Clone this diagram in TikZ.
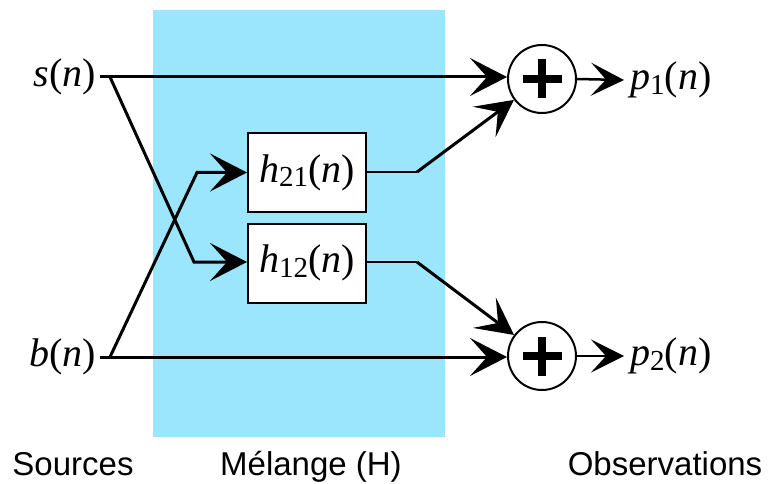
\documentclass[tikz,border=0pt]{standalone}
\usepackage{fontspec}
\setmainfont{Liberation Serif}
\newfontfamily\arialf{Liberation Sans}
\usetikzlibrary{arrows.meta}
\definecolor{mixblue}{RGB}{155,229,253}
\newcommand\mysub[1]{\raisebox{-0.12em}{\fontsize{29}{29}\selectfont #1}}
\begin{document}
\begin{tikzpicture}[x=1pt,y=-1pt,
  sig/.style={font=\fontsize{40}{48}\selectfont, inner ysep=0pt, inner xsep=4pt},
  filt/.style={draw, line width=2pt, fill=white, minimum width=118pt, minimum height=79pt, inner sep=0pt, font=\fontsize{40}{48}\selectfont},
  sumnode/.style={circle, draw, line width=2pt, fill=white, minimum size=68pt, inner sep=0pt,
    path picture={
      \fill[black] (path picture bounding box.center) ++(-19.5pt,-4pt) rectangle ++(39pt,8pt);
      \fill[black] (path picture bounding box.center) ++(-4pt,-19.5pt) rectangle ++(8pt,39pt);
    }},
  sigline/.style={line width=3pt},
  arr/.style={-{Stealth[length=37pt,width=38pt,inset=17pt]}},
  arrsmall/.style={-{Stealth[length=33pt,width=33pt,inset=15pt]}},
  captext/.style={font=\arialf\fontsize{33}{40}\selectfont, anchor=base, inner sep=0pt}
]
\useasboundingbox (0,0) rectangle (769,484);
\fill[mixblue] (153,10) rectangle (445,437);

% signals
\node[sig, anchor=east] (s) at (100,77) {\textit{s}(\textit{n})};
\node[sig, anchor=east] (b) at (100,357) {\textit{b}(\textit{n})};

% filters
\node[filt] (h21) at (307,172.5) {\textit{h}\mysub{21}(\textit{n})};
\node[filt] (h12) at (307,263) {\textit{h}\mysub{12}(\textit{n})};

% sums
\node[sumnode] (sum1) at (542,79) {};
\node[sumnode] (sum2) at (542,356) {};

% outputs
\node[sig, anchor=west, inner xsep=6pt] (p1) at (624,80) {\textit{p}\mysub{1}(\textit{n})};
\node[sig, anchor=west, inner xsep=6pt] (p2) at (624,356) {\textit{p}\mysub{2}(\textit{n})};

% junction points
\coordinate (sj) at (110,77);
\coordinate (bj) at (110,357);
\coordinate (cs) at (194,262);
\coordinate (cb) at (197,172.5);
\coordinate (j21) at (417,172);
\coordinate (j12) at (417,262);

% connectors
\draw[sigline,arr] (s.east) -- (s.east -| sum1.west);
\draw[sigline,arr] (b.east) -- (b.east -| sum2.west);
\draw[sigline,arr] (sj) -- (cs) -- (h12.west |- cs);
\draw[sigline,arr] (bj) -- (cb) -- (h21.west);
\draw[line width=2pt] (h21.east |- j21) -- (j21);
\draw[line width=2pt] (h12.east |- j12) -- (j12);
\draw[sigline,arr] (j21) -- (sum1);
\draw[sigline,arr] (j12) -- (sum2);
\draw[line width=2.5pt,arrsmall] (sum1.east) -- (p1.west);
\draw[line width=2.5pt,arrsmall] (sum2.east) -- (p2.west);

% captions
\node[captext] (c1) at (73,475) {Sources};
\node[captext] (c2) at (311,475) {Mélange (H)};
\node[captext] (c3) at (665,475) {Observations};
\end{tikzpicture}
\end{document}
